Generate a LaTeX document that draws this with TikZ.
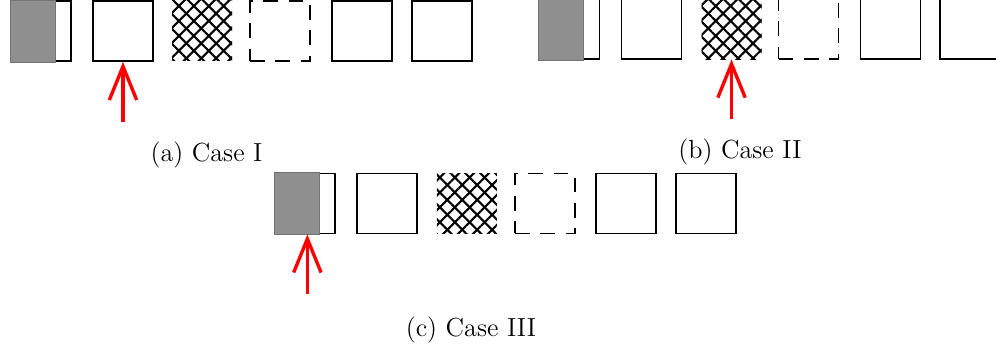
\documentclass[tikz,border=0pt]{standalone}
\usetikzlibrary{arrows.meta,patterns.meta}

\tikzset{
	feld/.style={draw=black, thick, minimum size=1cm, inner sep=0pt},
	leerfeld/.style={feld, dash pattern=on 7pt off 5pt},
	gitterfeld/.style={minimum size=1cm, inner sep=0pt,
		preaction={pattern={Lines[angle=45,distance=5pt,line width=1pt]}},
		pattern={Lines[angle=-45,distance=5pt,line width=1pt]}},
	grau/.style={fill=black!44, draw=black!55, very thin},
	zeiger/.style={draw=red, line width=1.6pt, -{Straight Barb[length=16pt,width=13pt]}},
	titel/.style={anchor=base, font=\fontsize{12.4}{15}\selectfont}
}

\begin{document}
\begin{tikzpicture}
	\useasboundingbox (0,0) rectangle (16.6,5.8167);
	% Fall (a)
	\node[feld] (a1) at (0.683, 5.3) {};
	\filldraw[grau] (a1.south west) rectangle ([xshift=0.75cm]a1.north west);
	\node[feld] (a2) at (2.05, 5.3) {};
	\node[gitterfeld] (a3) at (3.367, 5.3) {};
	\node[leerfeld] (a4) at (4.667, 5.3) {};
	\node[feld] (a5) at (6.033, 5.3) {};
	\node[feld] (a6) at (7.367, 5.3) {};
	\coordinate (pa) at ([yshift=-1cm]a2.south);
	\draw[zeiger] (pa) -- (a2.south);
	\node[titel] (ta) at (3.442, 3.133) {(a) Case I};

	% Fall (b)
	\node[feld] (b1) at (9.492, 5.333) {};
	\filldraw[grau] (b1.south west) rectangle ([xshift=0.75cm]b1.north west);
	\node[feld] (b2) at (10.858, 5.333) {};
	\node[gitterfeld] (b3) at (12.192, 5.333) {};
	\node[leerfeld] (b4) at (13.475, 5.333) {};
	\node[feld] (b5) at (14.842, 5.333) {};
	\node[feld] (b6) at (16.167, 5.333) {};
	\coordinate (pb) at ([yshift=-1cm]b3.south);
	\draw[zeiger] (pb) -- (b3.south);
	\node[titel] (tb) at (12.333, 3.175) {(b) Case II};

	% Fall (c)
	\node[feld] (c1) at (5.083, 2.425) {};
	\filldraw[grau] (c1.south west) rectangle ([xshift=0.75cm]c1.north west);
	\node[feld] (c2) at (6.45, 2.425) {};
	\node[gitterfeld] (c3) at (7.783, 2.425) {};
	\node[leerfeld] (c4) at (9.083, 2.425) {};
	\node[feld] (c5) at (10.433, 2.425) {};
	\node[feld] (c6) at (11.767, 2.425) {};
	\coordinate (pc) at ([xshift=0.04cm, yshift=-1cm]c1.south);
	\draw[zeiger] (pc) -- ([xshift=0.04cm]c1.south);
	\node[titel] (tc) at (7.85, 0.2) {(c) Case III};
\end{tikzpicture}
\end{document}
